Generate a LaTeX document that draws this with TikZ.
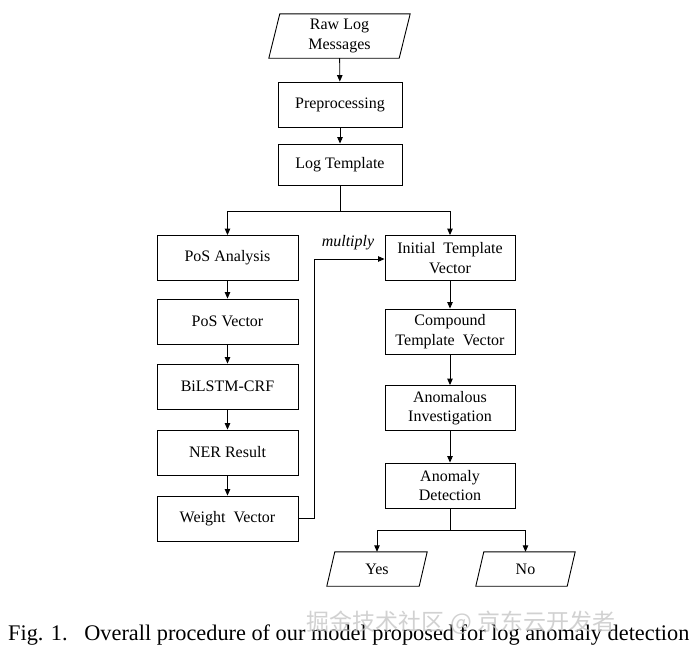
\documentclass[tikz,border=0pt]{standalone}
\usepackage{fontspec}
\setmainfont{Liberation Serif}
\newfontfamily\cjk{Noto Sans CJK SC}
\usetikzlibrary{arrows.meta,calc}
\begin{document}
\begin{tikzpicture}[x=1pt,y=-1pt,
  every node/.style={font=\fontsize{16}{19.5}\selectfont},
  box/.style={draw=black, line width=0.9pt, rectangle, inner sep=0pt, minimum height=45pt, align=center},
  lbox/.style={box, minimum width=141pt},
  rbox/.style={box, minimum width=130pt},
  io/.style={rectangle, inner sep=0pt, align=center},
  para/.style={draw=black, line width=0.9pt, line join=miter},
  conn/.style={line width=0.9pt, -{Triangle[length=6.5pt,width=5.5pt]}},
  line/.style={line width=0.9pt}]
\useasboundingbox (0,0) rectangle (691,654);
\fill[white] (0,0) rectangle (691,654);
% top column
\node[io, minimum width=141pt, minimum height=44pt] (raw) at (339.5,36) {Raw Log\\Messages};
\draw[para] ($(raw.north west)+(11,0)$) -- (raw.north east) -- ($(raw.south east)+(-11,0)$) -- (raw.south west) -- cycle;
\node[box, minimum width=124pt, minimum height=45pt] (pre) at (340,104.5) {Preprocessing};
\node[box, minimum width=124pt, minimum height=41pt] (tpl) at (340,164.5) {Log Template};
% left column
\node[lbox] (posa) at (227.5,258) {PoS Analysis};
\node[lbox] (posv) at (227.5,321.5) {PoS Vector};
\node[lbox] (bil) at (227.5,386.5) {BiLSTM-CRF};
\node[lbox] (ner) at (227.5,452.5) {NER Result};
\node[lbox] (wv) at (227.5,518.5) {Weight\ \ Vector};
% right column
\node[rbox] (itv) at (450,258) {Initial\ \ Template\\Vector};
\node[rbox] (ctv) at (450,331.5) {Compound\\Template\ \ Vector};
\node[rbox] (ai) at (450,408) {Anomalous\\Investigation};
\node[rbox] (ad) at (450,485.5) {Anomaly\\Detection};
% outputs
\node[io, minimum width=100pt, minimum height=34pt] (yes) at (377,569) {Yes};
\draw[para] ($(yes.north west)+(8,0)$) -- (yes.north east) -- ($(yes.south east)+(-8,0)$) -- (yes.south west) -- cycle;
\node[io, minimum width=99pt, minimum height=34pt] (no) at (525.5,569) {No};
\draw[para] ($(no.north west)+(8,0)$) -- (no.north east) -- ($(no.south east)+(-8,0)$) -- (no.south west) -- cycle;
% connectors
\draw[conn] (raw) -- (pre);
\draw[conn] (pre) -- (tpl);
\coordinate (split) at (340,211);
\draw[line] (tpl.south) -- (split);
\draw[conn] (split) -| (posa.north);
\draw[conn] (split) -| (itv.north);
\draw[conn] (posa) -- (posv);
\draw[conn] (posv) -- (bil);
\draw[conn] (bil) -- (ner);
\draw[conn] (ner) -- (wv);
\coordinate (fb) at (314,518.5);
\coordinate (fbtop) at (314,259);
\draw[line] (wv.east) -- (fb) -- (fbtop);
\draw[conn] (fbtop) -- (fbtop -| itv.west);
\node[font=\fontsize{16}{18}\itshape, anchor=center] (mul) at (348,243) {multiply};
\draw[conn] (itv) -- (ctv);
\draw[conn] (ctv) -- (ai);
\draw[conn] (ai) -- (ad);
\coordinate (split2) at (450,530);
\draw[line] (ad.south) -- (split2);
\draw[conn] (split2) -| ($(yes.north)+(0,0)$);
\draw[conn] (split2) -| (no.north);
% caption
\node[font=\fontsize{22.3}{24}\selectfont, anchor=base west, inner sep=0pt] (cap) at (8,640) {Fig. 1.\ \ \ Overall procedure of our model proposed for log anomaly detection};
\node[font=\cjk\fontsize{23}{24}\selectfont, text=gray!45, opacity=0.8, anchor=center, inner sep=0pt] (wm) at (461,623) {掘金技术社区 @ 京东云开发者};
\end{tikzpicture}
\end{document}
